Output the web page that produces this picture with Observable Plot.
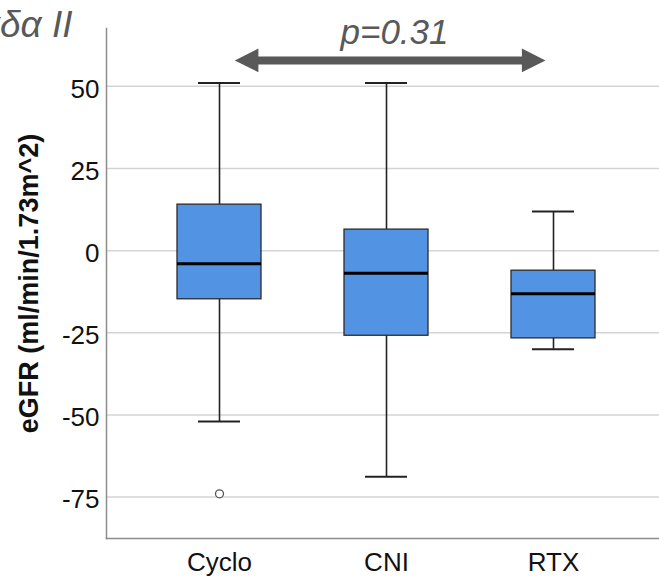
<!DOCTYPE html>
<html><head><meta charset="utf-8">
<script src="https://cdn.jsdelivr.net/npm/d3@7"></script>
<script src="https://cdn.jsdelivr.net/npm/@observablehq/plot@0.6"></script>
<style>body{margin:0;background:#fff;overflow:hidden}</style>
</head><body><div id="chart"></div>
<script>
// ---- data ----
const groups = ["Cyclo", "CNI", "RTX"];
const whiskerLow = [-52, -68.8, -30];
const q1 = [-14.8, -25.9, -26.7];
const median = [-4, -6.9, -13.1];
const q3 = [14, 6.4, -6.1];
const whiskerHigh = [51, 51, 11.9];
const outlierGroups = ["Cyclo"];
const outlierValues = [-74];
const yTicks = [-75, -50, -25, 0, 25, 50];
const yDomain = [-87.6, 67.6];
const compareGroups = ["Cyclo", "RTX"];
const arrowY = [57.9];
const pLabel = ["p=0.31"];
const pLabelGroup = ["CNI"];
const pLabelY = [62.8];
const titleText = ["Ομάδα II"];
const yLabel = ["eGFR (ml/min/1.73m^2)"];

// ---- tables ----
const boxes = groups.map((g, i) => ({group: g, low: whiskerLow[i], q1: q1[i], med: median[i], q3: q3[i], high: whiskerHigh[i]}));
const outliers = outlierGroups.map((g, i) => ({group: g, value: outlierValues[i]}));
const arrowRows = [{from: compareGroups[0], to: compareGroups[1], y: arrowY[0]}];
const leftHead = [{group: compareGroups[0], y: arrowY[0]}];
const rightHead = [{group: compareGroups[1], y: arrowY[0]}];
const pRows = pLabel.map((t, i) => ({text: t, group: pLabelGroup[i], y: pLabelY[i]}));

const arrowHead = {
  draw(context, size) {
    const k = Math.sqrt(size / Math.PI);
    context.moveTo(0, 0);
    context.lineTo(-2 * k, -k);
    context.lineTo(-2 * k, k);
    context.closePath();
  }
};

const grey = "#595959";
const font = "'Liberation Sans', Arial, sans-serif";

const chart = Plot.plot({
  width: 659,
  height: 580,
  marginLeft: 106,
  marginRight: 0,
  marginTop: 28,
  marginBottom: 42,
  style: {fontFamily: font, color: "#111", background: "white", overflow: "visible"},
  x: {type: "band", domain: groups, range: [92.4, 678.6], padding: 0.5},
  y: {domain: yDomain},
  marks: [
    Plot.gridY(yTicks, {stroke: "#d4d4d4", strokeOpacity: 1, strokeWidth: 1.5}),
    Plot.ruleX(boxes, {x: "group", y1: "q3", y2: "high", stroke: "#222", strokeWidth: 1.6}),
    Plot.ruleX(boxes, {x: "group", y1: "low", y2: "q1", stroke: "#222", strokeWidth: 1.6}),
    Plot.tickY(boxes, {x: "group", y: "high", insetLeft: 21, insetRight: 21, stroke: "#222", strokeWidth: 2}),
    Plot.tickY(boxes, {x: "group", y: "low", insetLeft: 21, insetRight: 21, stroke: "#222", strokeWidth: 2}),
    Plot.barY(boxes, {x: "group", y1: "q1", y2: "q3", fill: "#5393e3", stroke: "#2b2b2b", strokeWidth: 1.3}),
    Plot.tickY(boxes, {x: "group", y: "med", stroke: "#000", strokeWidth: 3}),
    Plot.dot(outliers, {x: "group", y: "value", r: 4, stroke: "#555", fill: "white", strokeWidth: 1.3}),
    Plot.frame({anchor: "left", stroke: "#8c8c8c", strokeWidth: 1.5}),
    Plot.frame({anchor: "bottom", stroke: "#8c8c8c", strokeWidth: 1.5}),
    Plot.axisY({ticks: yTicks, tickFormat: (d) => String(d), tickSize: 0, tickPadding: 7, fontSize: 26, label: null, dy: 3}),
    Plot.axisX({tickSize: 0, tickPadding: 14, fontSize: 26, label: null}),
    Plot.text(yLabel, {frameAnchor: "left", textAnchor: "middle", rotate: -90, dx: -77.5, fontSize: 27, fontWeight: "bold", fill: "#111"}),
    Plot.ruleY(arrowRows, {y: "y", x1: "from", x2: "to", insetLeft: 76, insetRight: 69, stroke: grey, strokeWidth: 8}),
    Plot.dot(leftHead, {x: "group", y: "y", symbol: arrowHead, r: 11.8, rotate: 180, dx: 15.3, fill: grey, stroke: null}),
    Plot.dot(rightHead, {x: "group", y: "y", symbol: arrowHead, r: 11.8, rotate: 0, dx: -8, fill: grey, stroke: null}),
    Plot.text(pRows, {x: "group", y: "y", text: "text", dx: 8, lineAnchor: "bottom", fontSize: 35, fontStyle: "italic", fill: grey}),
    Plot.text(titleText, {frameAnchor: "top-left", dx: -34, dy: 8, textAnchor: "end", lineAnchor: "bottom", fontSize: 37, fontStyle: "italic", fill: grey})
  ]
});
document.getElementById("chart").appendChild(chart);
</script>
</body></html>
